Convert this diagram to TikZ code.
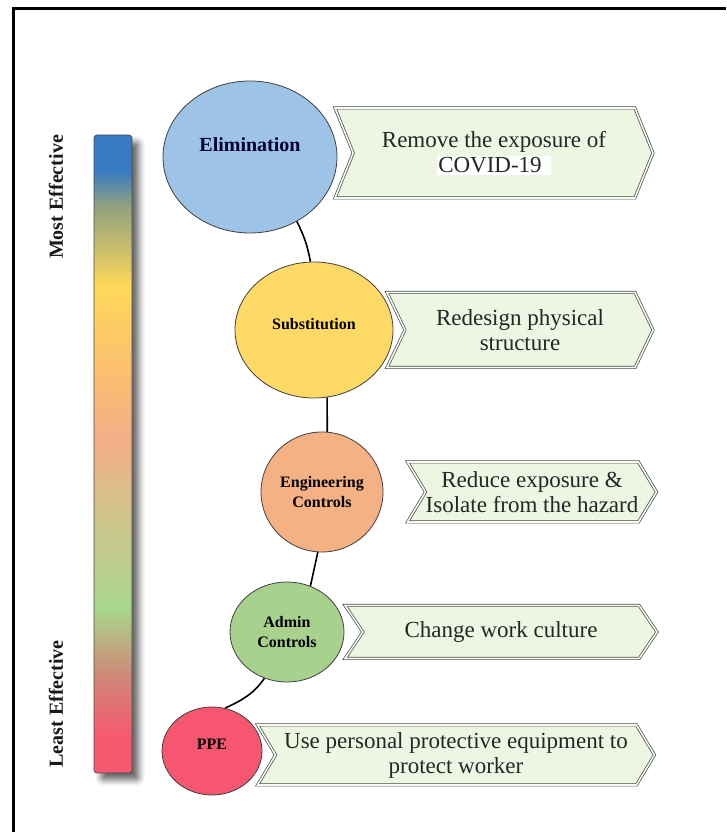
\documentclass[tikz,border=0pt]{standalone}
\usepackage{fontspec}
\setmainfont{Liberation Serif}
\usetikzlibrary{shapes.geometric, shapes.symbols, shadows.blur}

\definecolor{elimblue}{RGB}{157,195,230}
\definecolor{substyellow}{RGB}{255,217,102}
\definecolor{enginorange}{RGB}{244,177,131}
\definecolor{admingreen}{RGB}{169,209,142}
\definecolor{ppered}{RGB}{246,86,112}
\definecolor{boxgreen}{RGB}{237,245,227}
\definecolor{boxline}{RGB}{70,75,70}
\definecolor{barred}{RGB}{246,88,112}
\definecolor{barbrown}{RGB}{205,138,120}
\definecolor{bargreen}{RGB}{168,215,140}
\definecolor{bartan}{RGB}{214,192,138}
\definecolor{barsalmon}{RGB}{244,174,134}
\definecolor{barorange}{RGB}{251,189,112}
\definecolor{baryellow}{RGB}{253,216,90}
\definecolor{bargrey}{RGB}{143,160,128}
\definecolor{barblue}{RGB}{55,122,196}

% bar colours, bottom (least) to top (most)
\pgfdeclareverticalshading{effectbar}{100bp}{color(0bp)=(barred); color(25bp)=(barred);
  color(27.8bp)=(barred); color(32.8bp)=(barbrown); color(37.9bp)=(bargreen);
  color(46.2bp)=(bartan); color(51.2bp)=(barsalmon); color(56.1bp)=(barorange);
  color(63.2bp)=(baryellow); color(69.5bp)=(bargrey); color(72.2bp)=(barblue);
  color(75bp)=(barblue); color(100bp)=(barblue)}

\begin{document}
\begin{tikzpicture}[x=1pt, y=1pt]
	\tikzstyle{ctrl} = [ellipse, draw=black!75, line width=0.8pt, inner sep=0pt, align=center, font=\bfseries\fontsize{16}{20}\selectfont]
	\tikzstyle{action} = [signal, signal from=west, signal to=east, draw=boxline, line width=0.7pt, double=boxgreen!50!white, double distance=1.6pt, fill=boxgreen, inner xsep=0pt, align=center, text=black!85, font=\fontsize{23}{25}\selectfont]
	\tikzstyle{link} = [draw=black, line width=1.6pt]
	\tikzstyle{sidelabel} = [rotate=90, font=\bfseries\fontsize{20}{22}\selectfont, text=black!90]

	\useasboundingbox (0,0) rectangle (726,832);
	\draw[line width=3pt] (13,0) -- (13,823) -- (726,823);

	% effectiveness bar
	\node[draw=black!70, line width=0.7pt, rounded corners=3pt, minimum width=38pt, minimum height=638pt, shading=effectbar,
		blur shadow={shadow xshift=7pt, shadow yshift=-7pt, shadow blur radius=6pt, shadow opacity=60}] (bar) at (113,378) {};
	\node[sidelabel] (most) at (56,635) {Most Effective};
	\node[sidelabel] (least) at (56,128) {Least Effective};

	% hierarchy of controls
	\node[ctrl, fill=elimblue, minimum width=174pt, minimum height=152pt, text depth=24pt, text=blue!20!black,
		font=\bfseries\fontsize{20}{22}\selectfont] (elim) at (250,675) {Elimination};
	\node[ctrl, fill=substyellow, minimum width=158pt, minimum height=136pt, text depth=12pt] (subst) at (314,502) {Substitution};
	\node[ctrl, fill=enginorange, minimum width=122pt, minimum height=120pt] (engin) at (322,340) {Engineering\\Controls};
	\node[ctrl, fill=admingreen, minimum width=114pt, minimum height=100pt] (admin) at (287,200) {Admin\\Controls};
	\node[ctrl, fill=ppered, minimum width=100pt, minimum height=88pt, text depth=14pt] (ppe) at (212,81) {PPE};

	\draw[link] (elim.-54) to[bend left=8] (subst.93);
	\draw[link] (subst.-79) -- (engin.85);
	\draw[link] (engin.-94) -- (admin.63);
	\draw[link] (admin.-116) to[out=-125, in=25] (ppe.73);

	% what each control does
	\foreach \name/\cx/\cy/\w/\h/\ang/\text in {
		elimbox/494/679/318/90/136/{Remove the exposure of\\{\setlength\fboxsep{1.5pt}\colorbox{white}{COVID-19\hspace{8pt}}}},
		substbox/520/502/266/75/129/{Redesign physical\\structure},
		enginbox/532/340/249/60/118/{Reduce exposure \&\\Isolate from the hazard},
		adminbox/501/200/312/53/112/{Change work culture},
		ppebox/456/77/397/60/118/{Use personal protective equipment to\\protect worker}} {
		\node[action, minimum width=\w pt, minimum height=\h pt, signal pointer angle=\ang] (\name) at (\cx,\cy) {\text};
	}
\end{tikzpicture}
\end{document}
